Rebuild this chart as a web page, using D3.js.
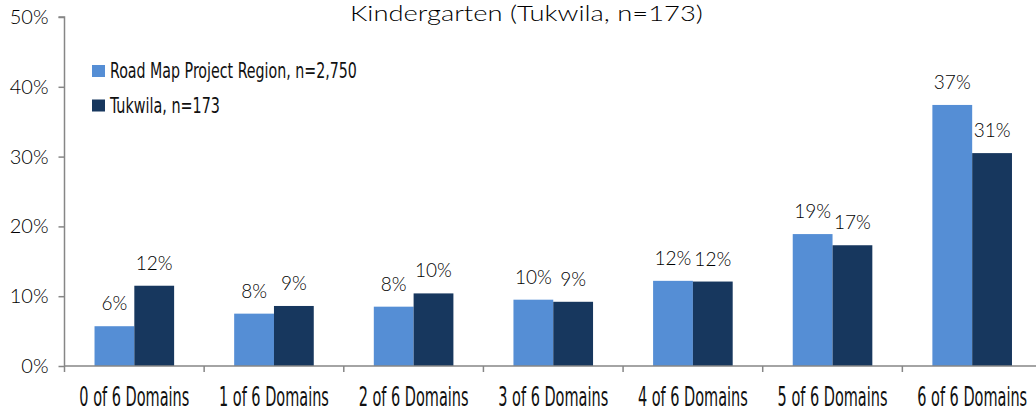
<!DOCTYPE html>
<html>
<head>
<meta charset="utf-8">
<script src="https://cdn.jsdelivr.net/npm/d3@7"></script>
<style>
  html, body { margin: 0; padding: 0; background: #fff; }
  svg { display: block; }
</style>
</head>
<body>
<svg id="chart" width="1036" height="412"></svg>
<script>
const categories = ["0 of 6 Domains", "1 of 6 Domains", "2 of 6 Domains", "3 of 6 Domains", "4 of 6 Domains", "5 of 6 Domains", "6 of 6 Domains"];
const seriesNames = ["Road Map Project Region, n=2,750", "Tukwila, n=173"];
const regionValues = [0.057, 0.075, 0.085, 0.095, 0.122, 0.189, 0.374];
const tukwilaValues = [0.115, 0.086, 0.104, 0.092, 0.121, 0.173, 0.305];
const regionLabels = ["6%", "8%", "8%", "10%", "12%", "19%", "37%"];
const tukwilaLabels = ["12%", "9%", "10%", "9%", "12%", "17%", "31%"];
const yTicks = [0, 0.1, 0.2, 0.3, 0.4, 0.5];
const chartTitle = "Kindergarten (Tukwila, n=173)";

const colors = ["#558ED5", "#17375E"];
const axisColor = "#868686";
const futura = "Lato, 'Open Sans', sans-serif";
const condensed = "'Liberation Sans Narrow', 'DejaVu Sans Condensed', 'DejaVu Sans', sans-serif";

const svg = d3.select("#chart");
const mLeft = 64.5, mRight = 1042, mTop = 17, mBottom = 366;

const x0 = d3.scaleBand().domain(categories).range([mLeft, mRight]).paddingInner(0.43).paddingOuter(0.215);
const x1 = d3.scaleBand().domain([0, 1]).range([0, x0.bandwidth()]);
const y = d3.scaleLinear().domain([0, 0.5]).range([mBottom, mTop]);

// squeeze a text horizontally to a target width, anchored at (ax, ay)
function fitWidth(textSel, targetW, ax, ay, anchor) {
  const node = textSel.node();
  const natural = node.getComputedTextLength();
  const k = targetW / natural;
  textSel.attr("x", 0).attr("y", 0).attr("text-anchor", anchor)
    .attr("transform", `translate(${ax},${ay}) scale(${k},1)`);
}

const rows = categories.map((c, i) => ({
  cat: c,
  vals: [
    { s: 0, v: regionValues[i], label: regionLabels[i] },
    { s: 1, v: tukwilaValues[i], label: tukwilaLabels[i] }
  ]
}));

// bars
const g = svg.append("g");
const groups = g.selectAll("g.cat").data(rows).join("g")
  .attr("class", "cat")
  .attr("transform", d => `translate(${x0(d.cat)},0)`);

groups.selectAll("rect").data(d => d.vals).join("rect")
  .attr("x", d => x1(d.s))
  .attr("width", x1.bandwidth())
  .attr("y", d => y(d.v))
  .attr("height", d => y(0) - y(d.v))
  .attr("fill", d => colors[d.s]);

groups.selectAll("text").data(d => d.vals).join("text")
  .attr("x", d => x1(d.s) + x1.bandwidth() / 2)
  .attr("y", d => y(d.v) - 16)
  .attr("text-anchor", "middle")
  .attr("font-family", futura)
  .attr("font-weight", 300)
  .attr("font-size", 19)
  .attr("fill", "#000")
  .text(d => d.label);

// y axis
const yAxis = d3.axisLeft(y).tickValues(yTicks).tickFormat(d3.format(".0%")).tickSize(6).tickPadding(10);
const yg = svg.append("g").attr("transform", `translate(${mLeft},0)`).call(yAxis);
yg.select(".domain").attr("stroke", axisColor).attr("stroke-width", 1.5).attr("d", `M-6,${mTop}H0V${mBottom}`);
yg.selectAll(".tick line").attr("stroke", axisColor).attr("stroke-width", 1.5);
yg.selectAll(".tick text").attr("font-family", futura).attr("font-weight", 300).attr("font-size", 20).attr("fill", "#000");

// x axis
const boundaries = categories.map(c => x0(c) - x0.step() * x0.paddingInner() / 2).concat([mRight]);
const xg = svg.append("g");
xg.append("line").attr("x1", mLeft).attr("x2", mRight).attr("y1", mBottom).attr("y2", mBottom)
  .attr("stroke", axisColor).attr("stroke-width", 1.5);
xg.selectAll("line.tk").data(boundaries).join("line").attr("class", "tk")
  .attr("x1", d => d).attr("x2", d => d).attr("y1", mBottom).attr("y2", mBottom + 6)
  .attr("stroke", axisColor).attr("stroke-width", 1.5);
xg.selectAll("text").data(categories).join("text")
  .attr("font-family", condensed)
  .attr("font-size", 26)
  .attr("fill", "#111")
  .text(d => d)
  .each(function (d) {
    fitWidth(d3.select(this), 110, x0(d) + x0.bandwidth() / 2, 406, "middle");
  });

// title
const t = svg.append("text")
  .attr("font-family", futura).attr("font-weight", 300).attr("font-size", 22)
  .attr("fill", "#000")
  .text(chartTitle);
fitWidth(t, 353, 350, 21, "start");

// legend
const legendY = [71, 105.5];
const legendW = [247, 110];
const lg = svg.append("g");
seriesNames.forEach((n, i) => {
  lg.append("rect").attr("x", 92).attr("y", legendY[i] - 6).attr("width", 13).attr("height", 12).attr("fill", colors[i]);
  const lt = lg.append("text")
    .attr("font-family", condensed).attr("font-size", 22)
    .attr("fill", "#111").text(n);
  fitWidth(lt, legendW[i], 110, legendY[i] + 7, "start");
});
</script>
</body>
</html>
